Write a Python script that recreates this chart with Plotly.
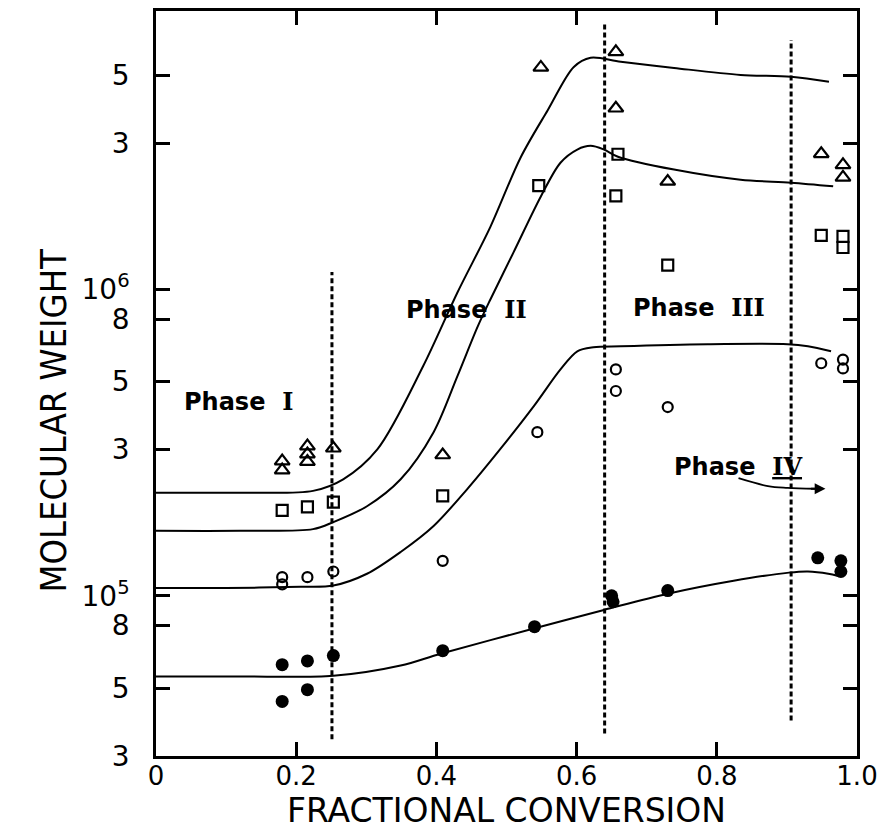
import math
import plotly.graph_objects as go

# ---- fitted curves (fractional conversion, molecular weight) ----
curve_x_tri = [0.0, 0.12, 0.224, 0.267, 0.316, 0.381, 0.43, 0.477, 0.52, 0.559, 0.596, 0.62, 0.663, 0.739, 0.834, 0.906, 0.96]
curve_y_tri = [2.17e5, 2.17e5, 2.20e5, 2.40e5, 3.01e5, 5.61e5, 9.77e5, 1.60e6, 2.69e6, 3.85e6, 5.32e6, 5.70e6, 5.53e6, 5.28e6, 5.01e6, 4.94e6, 4.76e6]

curve_x_sq = [0.0, 0.12, 0.224, 0.253, 0.301, 0.349, 0.396, 0.43, 0.459, 0.477, 0.51, 0.549, 0.577, 0.601, 0.62, 0.639, 0.659, 0.739, 0.834, 0.906, 0.966]
curve_y_sq = [1.63e5, 1.63e5, 1.65e5, 1.74e5, 1.96e5, 2.40e5, 3.42e5, 5.21e5, 7.57e5, 9.27e5, 1.32e6, 2.01e6, 2.59e6, 2.86e6, 2.94e6, 2.86e6, 2.71e6, 2.46e6, 2.28e6, 2.23e6, 2.17e6]

curve_x_ci = [0.0, 0.1, 0.206, 0.253, 0.301, 0.349, 0.396, 0.444, 0.491, 0.539, 0.577, 0.601, 0.624, 0.663, 0.787, 0.901, 0.93, 0.963]
curve_y_ci = [1.06e5, 1.06e5, 1.07e5, 1.08e5, 1.18e5, 1.39e5, 1.69e5, 2.23e5, 3.01e5, 4.16e5, 5.48e5, 6.28e5, 6.47e5, 6.52e5, 6.62e5, 6.62e5, 6.52e5, 6.28e5]

curve_x_fi = [0.0, 0.12, 0.253, 0.349, 0.406, 0.539, 0.639, 0.73, 0.824, 0.903, 0.93, 0.959, 0.973]
curve_y_fi = [5.45e4, 5.45e4, 5.48e4, 5.92e4, 6.47e4, 7.82e4, 8.99e4, 1.016e5, 1.12e5, 1.19e5, 1.20e5, 1.18e5, 1.16e5]

# ---- measured points ----
tri_x = [0.18, 0.18, 0.216, 0.216, 0.216, 0.253, 0.409, 0.549, 0.656, 0.656, 0.73, 0.949, 0.98, 0.98]
tri_y = [2.75e5, 2.57e5, 3.08e5, 2.90e5, 2.74e5, 3.03e5, 2.88e5, 5.3e6, 5.96e6, 3.9e6, 2.25e6, 2.77e6, 2.55e6, 2.32e6]

sq_x = [0.18, 0.216, 0.253, 0.409, 0.546, 0.659, 0.656, 0.73, 0.949, 0.98, 0.98]
sq_y = [1.90e5, 1.95e5, 2.02e5, 2.12e5, 2.18e6, 2.76e6, 2.02e6, 1.2e6, 1.5e6, 1.49e6, 1.37e6]

ci_x = [0.18, 0.18, 0.216, 0.253, 0.409, 0.544, 0.656, 0.656, 0.73, 0.949, 0.98, 0.98]
ci_y = [1.15e5, 1.09e5, 1.15e5, 1.20e5, 1.30e5, 3.42e5, 5.48e5, 4.66e5, 4.13e5, 5.74e5, 5.9e5, 5.52e5]

fi_x = [0.18, 0.18, 0.216, 0.216, 0.253, 0.409, 0.54, 0.65, 0.652, 0.73, 0.944, 0.977, 0.977]
fi_y = [5.96e4, 4.52e4, 6.13e4, 4.94e4, 6.38e4, 6.62e4, 7.93e4, 1.0e5, 9.56e4, 1.04e5, 1.33e5, 1.30e5, 1.20e5]

# ---- phase boundaries ----
bound_x = [0.251, 0.64, 0.906]
bound_top = [1.14e6, 7.41e6, 6.52e6]
bound_bot = [3.40e4, 3.55e4, 3.92e4]

# ---- phase labels ----
phase_word = ["Phase", "Phase", "Phase", "Phase"]
phase_num = ["I", "II", "III", "<u>IV</u>"]
phase_x = [0.117, 0.443, 0.774, 0.83]
phase_y = [4.29e5, 8.6e5, 8.73e5, 2.65e5]

# Phase IV arrow path
arrow_x = [0.831, 0.873, 0.901, 0.94]
arrow_y = [2.42e5, 2.28e5, 2.25e5, 2.235e5]

# ---- axis ticks ----
y_tickvals = [3e4, 5e4, 8e4, 1e5, 3e5, 5e5, 8e5, 1e6, 3e6, 5e6]
y_ticktext = ["3", "5", "8", "10<sup>5</sup>", "3", "5", "8", "10<sup>6</sup>", "3", "5"]
x_tickvals = [0, 0.2, 0.4, 0.6, 0.8, 1.0]
x_ticktext = ["0", "0.2", "0.4", "0.6", "0.8", "1.0"]

fig = go.Figure()
line_style = dict(color="black", width=2, shape="spline", smoothing=0.9)
for cx, cy in [(curve_x_tri, curve_y_tri), (curve_x_sq, curve_y_sq),
               (curve_x_ci, curve_y_ci), (curve_x_fi, curve_y_fi)]:
    fig.add_trace(go.Scatter(x=cx, y=cy, mode="lines", line=line_style,
                             showlegend=False, hoverinfo="skip"))

for bx, bt, bb in zip(bound_x, bound_top, bound_bot):
    fig.add_trace(go.Scatter(x=[bx, bx], y=[bb, bt], mode="lines",
                             line=dict(color="black", width=3, dash="5px,3px"),
                             showlegend=False, hoverinfo="skip"))

fig.add_trace(go.Scatter(x=tri_x, y=tri_y, mode="markers", showlegend=False,
                         marker=dict(symbol="triangle-up-open", size=13, color="black", line=dict(width=2.2))))
fig.add_trace(go.Scatter(x=sq_x, y=sq_y, mode="markers", showlegend=False,
                         marker=dict(symbol="square-open", size=11, color="black", line=dict(width=2.2))))
fig.add_trace(go.Scatter(x=ci_x, y=ci_y, mode="markers", showlegend=False,
                         marker=dict(symbol="circle-open", size=10, color="black", line=dict(width=2.2))))
fig.add_trace(go.Scatter(x=fi_x, y=fi_y, mode="markers", showlegend=False,
                         marker=dict(symbol="circle", size=13, color="black")))

fig.add_trace(go.Scatter(x=arrow_x, y=arrow_y, mode="lines", showlegend=False,
                         line=dict(color="black", width=1.8, shape="spline"), hoverinfo="skip"))

for w, n, px, py in zip(phase_word, phase_num, phase_x, phase_y):
    fig.add_annotation(x=px, y=math.log10(py),
                       text=w + "  <span style='font-family:DejaVu Serif'>" + n + "</span>",
                       showarrow=False,
                       font=dict(family="DejaVu Sans", size=24, color="black", weight="bold"))

fig.add_annotation(x=arrow_x[-1] + 0.015, y=math.log10(arrow_y[-1]), ax=-16, ay=0,
                   text="", showarrow=True, arrowhead=2, arrowsize=1.2, arrowwidth=1.8,
                   arrowcolor="black")

# axis titles (placed as text, where the reference shows them)
fig.add_annotation(xref="paper", yref="paper", x=-0.178, y=0.45, textangle=-90,
                   text="MOLECULAR WEIGHT", showarrow=False,
                   font=dict(family="Liberation Sans Narrow, DejaVu Sans Condensed, Roboto Condensed, sans-serif",
                             size=36, color="black"))
fig.add_annotation(xref="paper", yref="paper", x=0.5, y=-0.0735, yanchor="middle",
                   text="FRACTIONAL CONVERSION", showarrow=False,
                   font=dict(family="DejaVu Sans", size=33, color="black"))

axis_common = dict(showline=True, linecolor="black", linewidth=2.5, mirror="ticks",
                   ticks="inside", ticklen=14, tickwidth=2.5, tickcolor="black",
                   showgrid=False, zeroline=False, automargin=False)

fig.update_xaxes(range=[0, 1.0], tickvals=x_tickvals, ticktext=x_ticktext, ticklabelstandoff=-5,
                 tickfont=dict(family="DejaVu Sans", size=26, color="black"),
                 **axis_common)
fig.update_yaxes(type="log", range=[math.log10(3e4), math.log10(8.1e6)],
                 tickvals=y_tickvals, ticktext=y_ticktext, ticklabelstandoff=18,
                 tickfont=dict(family="DejaVu Sans", size=28, color="black"),
                 **axis_common)

fig.update_layout(width=891, height=833, plot_bgcolor="white", paper_bgcolor="white",
                  margin=dict(l=156, r=34, t=11, b=77))

fig.write_html("out.html")
